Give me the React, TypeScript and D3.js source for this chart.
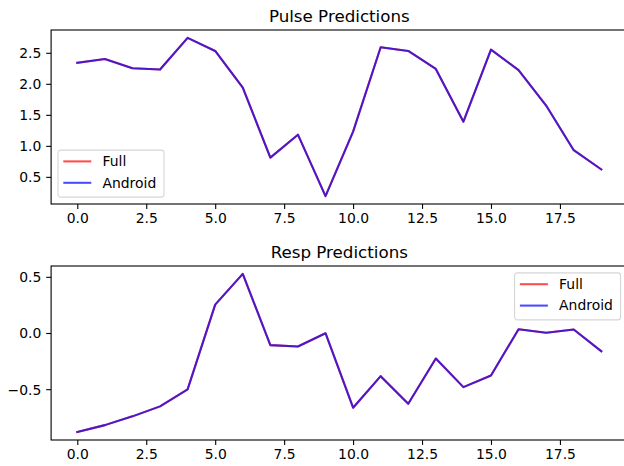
import React, { useEffect, useRef } from 'react';
import * as d3 from 'd3';

const steps = d3.range(20);
const pulseFull = [2.34, 2.4, 2.25, 2.23, 2.74, 2.53, 1.94, 0.81, 1.18, 0.19, 1.23, 2.59, 2.53, 2.24, 1.39, 2.55, 2.22, 1.65, 0.93, 0.62];
const pulseAndroid = [2.34, 2.4, 2.25, 2.23, 2.74, 2.53, 1.94, 0.81, 1.18, 0.19, 1.23, 2.59, 2.53, 2.24, 1.39, 2.55, 2.22, 1.65, 0.93, 0.62];
const respFull = [-0.882, -0.82, -0.742, -0.653, -0.502, 0.253, 0.526, -0.108, -0.12, -0.002, -0.665, -0.384, -0.63, -0.227, -0.482, -0.378, 0.034, 0.002, 0.031, -0.162];
const respAndroid = [-0.882, -0.82, -0.742, -0.653, -0.502, 0.253, 0.526, -0.108, -0.12, -0.002, -0.665, -0.384, -0.63, -0.227, -0.482, -0.378, 0.034, 0.002, 0.031, -0.162];
const xTicks = [0, 2.5, 5, 7.5, 10, 12.5, 15, 17.5];
const pulseTicks = [0.5, 1.0, 1.5, 2.0, 2.5];
const respTicks = [-0.5, 0.0, 0.5];
const seriesNames = ['Full', 'Android'];
const seriesColors = ['#ff0000', '#0000ff'];

const W = 624;
const H = 466;
const FONT = 'DejaVu Sans, sans-serif';

function App() {
    const ref = useRef(null);

    useEffect(() => {
        const svg = d3.select(ref.current);
        svg.selectAll('*').remove();

        const left = 51.1;
        const right = 627.5;

        const panels = [
            { title: 'Pulse Predictions', top: 30, data: [pulseFull, pulseAndroid], ticks: pulseTicks, legend: 'lower left' },
            { title: 'Resp Predictions', top: 266, data: [respFull, respAndroid], ticks: respTicks, legend: 'upper right' },
        ];
        const ph = 174;

        const x = d3.scaleLinear().domain([-0.95, 19.95]).range([left, right]);

        panels.forEach((p) => {
            const all = p.data.flat();
            const lo = d3.min(all);
            const hi = d3.max(all);
            const m = (hi - lo) * 0.05;
            const y = d3.scaleLinear().domain([lo - m, hi + m]).range([p.top + ph, p.top]);
            const g = svg.append('g');

            // lines
            const line = d3.line().x((d, i) => x(steps[i])).y((d) => y(d));
            p.data.forEach((vals, k) => {
                g.append('path')
                    .datum(vals)
                    .attr('d', line)
                    .attr('fill', 'none')
                    .attr('stroke', seriesColors[k])
                    .attr('stroke-opacity', 0.7)
                    .attr('stroke-width', 2.08)
                    .attr('stroke-linejoin', 'round')
                    .attr('stroke-linecap', 'square');
            });

            // axes
            const xa = g.append('g')
                .attr('transform', `translate(0,${p.top + ph})`)
                .call(d3.axisBottom(x).tickValues(xTicks).tickFormat(d3.format('.1f')).tickSizeOuter(0).tickSize(4.9).tickPadding(4.2));
            const ya = g.append('g')
                .attr('transform', `translate(${left},0)`)
                .call(d3.axisLeft(y).tickValues(p.ticks).tickFormat(d3.format('.1f')).tickSizeOuter(0).tickSize(4.9).tickPadding(4.9));
            [xa, ya].forEach((a) => {
                a.select('.domain').remove();
                a.selectAll('line').attr('stroke', '#000').attr('stroke-width', 1.1);
                a.selectAll('text').attr('font-family', FONT).attr('font-size', 13.9).attr('fill', '#000');
            });
            ya.selectAll('text').attr('dy', '0.35em');

            // spines
            g.append('rect')
                .attr('x', left)
                .attr('y', p.top)
                .attr('width', right - left)
                .attr('height', ph)
                .attr('fill', 'none')
                .attr('stroke', '#000')
                .attr('stroke-width', 1.1);

            g.append('text')
                .attr('x', (left + right) / 2)
                .attr('y', p.top - 8.3)
                .attr('text-anchor', 'middle')
                .attr('font-family', FONT)
                .attr('font-size', 16.7)
                .attr('fill', '#000')
                .text(p.title);

            // legend
            const lw = 106;
            const lh = 47;
            const lx = p.legend === 'lower left' ? left + 6.9 : right - 6.9 - lw;
            const ly = p.legend === 'lower left' ? p.top + ph - 6.9 - lh : p.top + 6.9;
            const lg = g.append('g').attr('transform', `translate(${lx},${ly})`);
            lg.append('rect')
                .attr('width', lw)
                .attr('height', lh)
                .attr('rx', 2.8)
                .attr('fill', 'rgba(255,255,255,0.8)')
                .attr('stroke', '#d6d6d6')
                .attr('stroke-width', 1.1);
            seriesNames.forEach((name, k) => {
                const cy = 11.3 + k * 21.4;
                lg.append('line')
                    .attr('x1', 5.3)
                    .attr('x2', 33.3)
                    .attr('y1', cy)
                    .attr('y2', cy)
                    .attr('stroke', seriesColors[k])
                    .attr('stroke-opacity', 0.7)
                    .attr('stroke-width', 2.08);
                lg.append('text')
                    .attr('x', 44.5)
                    .attr('y', cy)
                    .attr('dy', '0.35em')
                    .attr('font-family', FONT)
                    .attr('font-size', 13.9)
                    .attr('fill', '#000')
                    .text(name);
            });
        });
    }, []);

    return (
        <svg ref={ref} width={W} height={H} style={{ position: 'fixed', left: 0, top: 0, background: '#fff' }}></svg>
    );
}

export default App;
